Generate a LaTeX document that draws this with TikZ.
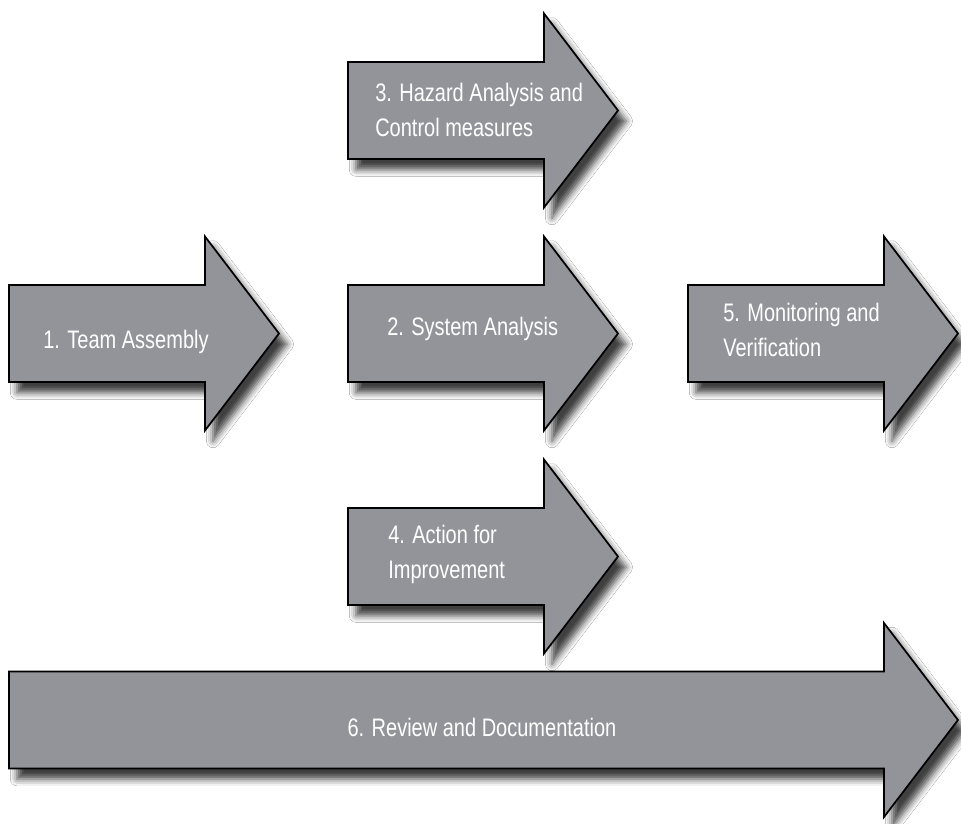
\documentclass[tikz,border=0pt]{standalone}
\usepackage{fontspec}
\setmainfont[FakeStretch=0.79]{Liberation Sans}
\usetikzlibrary{shadows.blur}
\definecolor{arrowgray}{RGB}{147,148,153}
\tikzset{
  arrowbox/.style={draw=black, line width=1.3pt, line join=miter, fill=arrowgray,
    blur shadow={shadow xshift=6pt, shadow yshift=-8pt, shadow blur radius=5pt, shadow opacity=75}},
  lbl/.style={text=white, font=\fontsize{19}{26.25}\selectfont, align=left, inner sep=0pt}
}
\newcommand\drawharrow[3]{%
  \path[arrowbox] ({#1},{#3-48.5}) -- ({#2},{#3-48.5}) -- ({#2},{#3-97}) --
    ({#2+74},{#3}) -- ({#2},{#3+97}) -- ({#2},{#3+48.5}) -- ({#1},{#3+48.5}) -- cycle;}
\begin{document}
\begin{tikzpicture}[x=0.75pt,y=-0.75pt]
\useasboundingbox[fill=white] (0,0) rectangle (961,824);
\drawharrow{348}{544}{110.5}
\drawharrow{9}{205}{333.5}
\drawharrow{348}{544}{333.5}
\drawharrow{688}{884}{333.5}
\drawharrow{348}{544}{556.5}
\drawharrow{9}{884}{720}
\node[lbl, anchor=north west] (t1) at (43,330) {1. Team Assembly};
\node[lbl, anchor=north west] (t2) at (387,317) {2. System Analysis};
\node[lbl, anchor=north west] (t3) at (375,83) {3. Hazard Analysis and\\Control measures};
\node[lbl, anchor=north west] (t4) at (388,525) {4. Action for\\Improvement};
\node[lbl, anchor=north west] (t5) at (723,303) {5. Monitoring and\\Verification};
\node[lbl, anchor=north] (t6) at (482,718) {6. Review and Documentation};
\end{tikzpicture}
\end{document}
